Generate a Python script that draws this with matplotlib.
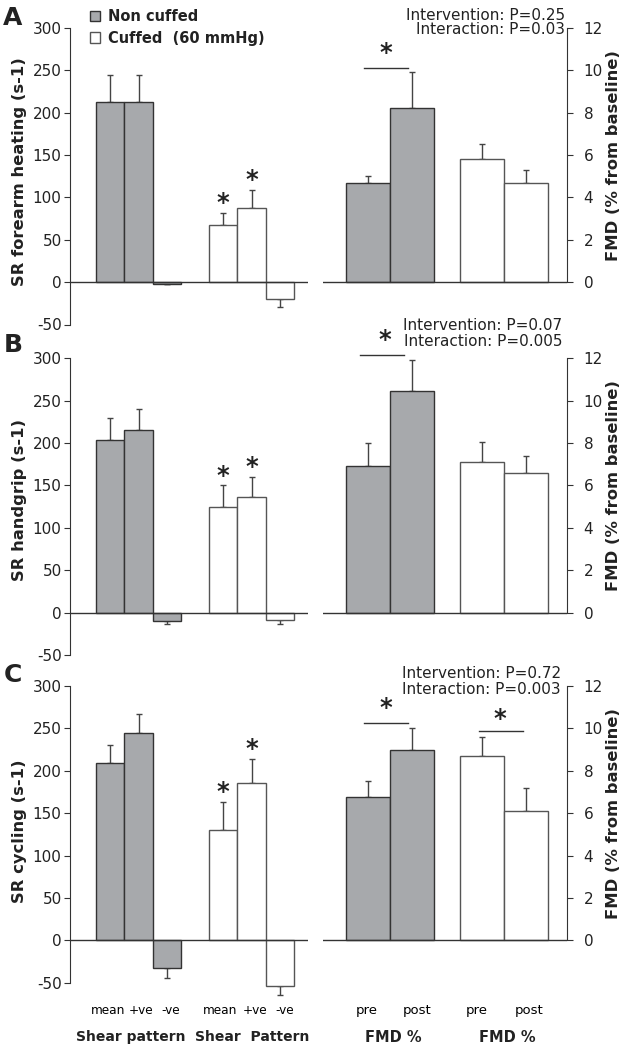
import matplotlib
matplotlib.use('Agg')
import matplotlib.pyplot as plt
import numpy as np

plt.rcParams['font.family'] = ['DejaVu Sans']
plt.rcParams['text.color'] = '#222222'
plt.rcParams['axes.unicode_minus'] = False

# shear rate (s-1): mean, +ve, -ve ; per row A (heating), B (handgrip), C (cycling)
sr_labels = ['mean', '+ve', '-ve']
sr_nc = [[213, 213, -2], [204, 216, -10], [209, 244, -33]]
sr_nc_err = [[32, 32, 0], [25, 24, 3], [21, 23, 12]]
sr_c = [[68, 88, -20], [125, 136, -9], [130, 186, -54]]
sr_c_err = [[14, 21, 9], [25, 24, 4], [33, 28, 10]]

# FMD (% from baseline): pre, post
fmd_labels = ['pre', 'post']
fmd_nc = [[4.7, 8.2], [6.9, 10.45], [6.75, 9.0]]
fmd_nc_err = [[0.3, 1.7], [1.1, 1.45], [0.75, 1.0]]
fmd_c = [[5.8, 4.7], [7.1, 6.6], [8.7, 6.1]]
fmd_c_err = [[0.7, 0.6], [0.95, 0.8], [0.9, 1.1]]

sr_names = ['SR forearm heating (s-1)', 'SR handgrip (s-1)', 'SR cycling (s-1)']
panel = ['A', 'B', 'C']
p_interv = ['Intervention: P=0.25', 'Intervention: P=0.07', 'Intervention: P=0.72']
p_inter = ['Interaction: P=0.03', 'Interaction: P=0.005', 'Interaction: P=0.003']
# significance bars on FMD plot: (x0, x1, y, star_x, star_y)
sig = [[(-0.1, 0.9, 10.1, 0.4, 10.8)],
       [(-0.18, 0.82, 12.17, 0.39, 12.85)],
       [(-0.1, 0.9, 10.25, 0.4, 10.95), (2.53, 3.52, 9.9, 3.0, 10.45)]]

W, H = 627, 1050
GREY = '#a7a9ac'
EDGE = '#333333'
fig = plt.figure(figsize=(W/100, H/100), dpi=100)

def px(x0, y0, x1, y1):
    return [x0/W, 1-y1/H, (x1-x0)/W, (y1-y0)/H]

tops = [28, 358.3, 686]
bots = [324.5, 655, 982.7]
lab_y = [172, 500, 831]
txt_y = [(15, 29.5), (325, 341.7), (673.3, 689)]
txt_x = [565, 562, 561]
letter_y = [18, 345, 675]

sr_x_nc = np.array([0, 1, 2])
sr_x_c = np.array([4, 5, 6])
fm_x_nc = np.array([0, 1])
fm_x_c = np.array([2.6, 3.6])
# category label positions (labels sit slightly off the bar centres)
sr_tick_x = [-0.07, 1.07, 2.14, 3.88, 5.12, 6.16]
fm_tick_x = [-0.03, 1.11, 2.48, 3.66]

def bars(ax, x, y, e, fc, ec):
    b = ax.bar(x, y, width=1.0, color=fc, edgecolor=ec, linewidth=1.0, clip_on=False, zorder=2)
    lo = [ee if v < 0 else 0 for v, ee in zip(y, e)]
    hi = [ee if v >= 0 else 0 for v, ee in zip(y, e)]
    eb = ax.errorbar(x, y, yerr=[lo, hi], fmt='none', ecolor='#444444', elinewidth=1.0,
                     capsize=2.2, capthick=1.0, zorder=1)
    for a in eb.lines[1] + eb.lines[2]:
        a.set_clip_on(False)
    return b

for i in range(3):
    # left: shear rate
    ax = fig.add_axes(px(70, tops[i], 308, bots[i]))
    b1 = bars(ax, sr_x_nc, sr_nc[i], sr_nc_err[i], GREY, EDGE)
    b2 = bars(ax, sr_x_c, sr_c[i], sr_c_err[i], 'white', '#555555')
    ax.axhline(0, color=EDGE, lw=1.0, zorder=3)
    ax.set_ylim(-50, 300)
    ax.set_xlim(-1.43, 7.0)
    ax.set_yticks(range(-50, 301, 50))
    for s in ['top', 'right', 'bottom']:
        ax.spines[s].set_visible(False)
    ax.spines['left'].set_bounds(-50, 300)
    ax.spines['left'].set_color(EDGE)
    ax.tick_params(axis='y', direction='out', length=4, pad=2, labelsize=11, colors=EDGE, labelcolor='#222222')
    for k in [0, 1]:
        top = sr_c[i][k] + sr_c_err[i][k]
        ax.annotate('*', (sr_x_c[k], top), xytext=(0, 2), textcoords='offset points',
                    ha='center', va='baseline', fontsize=17.5, fontweight='bold')
    if i == 2:
        ax.set_xticks(sr_tick_x)
        ax.set_xticklabels(sr_labels * 2, fontsize=8.7)
        ax.tick_params(axis='x', length=0, pad=15)
    else:
        ax.set_xticks([])
    if i == 0:
        ax.legend([b1, b2], ['Non cuffed', 'Cuffed  (60 mmHg)'], loc='upper left',
                  bbox_to_anchor=(90/W, 1-9/H), bbox_transform=fig.transFigure,
                  frameon=False, borderaxespad=0, borderpad=0, handlelength=0.7,
                  handleheight=0.7, handletextpad=0.5, labelspacing=0.45,
                  prop={'size': 10.5, 'weight': 'bold'})
    fig.text(20/W, 1-lab_y[i]/H, sr_names[i], rotation=90, ha='center', va='center',
             fontsize=11.8, fontweight='bold')
    fig.text(13/W, 1-letter_y[i]/H, panel[i], ha='center', va='center',
             fontsize=18, fontweight='bold')

    # right: FMD
    ax2 = fig.add_axes(px(323, tops[i], 567, bots[i]))
    bars(ax2, fm_x_nc, fmd_nc[i], fmd_nc_err[i], GREY, EDGE)
    bars(ax2, fm_x_c, fmd_c[i], fmd_c_err[i], 'white', '#555555')
    ax2.axhline(0, color=EDGE, lw=1.0, zorder=3)
    ax2.set_ylim(-2, 12)
    ax2.set_xlim(-1.023, 4.523)
    ax2.set_yticks(range(0, 13, 2))
    ax2.yaxis.tick_right()
    for s in ['top', 'left', 'bottom']:
        ax2.spines[s].set_visible(False)
    ax2.spines['right'].set_bounds(0, 12)
    ax2.spines['right'].set_color(EDGE)
    ax2.tick_params(axis='y', direction='out', length=4, pad=8, labelsize=11, colors=EDGE, labelcolor='#222222')
    for (x0, x1, yl, sx, sy) in sig[i]:
        ax2.plot([x0, x1], [yl, yl], color=EDGE, lw=1.0, clip_on=False)
        ax2.text(sx, sy, '*', ha='center', va='center', fontsize=17.5, fontweight='bold')
    if i == 2:
        ax2.set_xticks(fm_tick_x)
        ax2.set_xticklabels(fmd_labels * 2, fontsize=9.5)
        ax2.tick_params(axis='x', length=0, pad=15)
    else:
        ax2.set_xticks([])
    fig.text(614/W, 1-(tops[i] + (bots[i]-tops[i])*6/14)/H, 'FMD (% from baseline)',
             rotation=90, ha='center', va='center', fontsize=11.8, fontweight='bold')
    fig.text(txt_x[i]/W, 1-txt_y[i][0]/H, p_interv[i], ha='right', va='center', fontsize=11)
    fig.text(txt_x[i]/W, 1-txt_y[i][1]/H, p_inter[i], ha='right', va='center', fontsize=11)

fig.text(131/W, 1-1037/H, 'Shear pattern', ha='center', va='center', fontsize=10, fontweight='bold')
fig.text(252/W, 1-1037/H, 'Shear  Pattern', ha='center', va='center', fontsize=10, fontweight='bold')
fig.text(393/W, 1-1037/H, 'FMD %', ha='center', va='center', fontsize=10.5, fontweight='bold')
fig.text(507/W, 1-1037/H, 'FMD %', ha='center', va='center', fontsize=10.5, fontweight='bold')

plt.savefig('out.png', dpi=100)
